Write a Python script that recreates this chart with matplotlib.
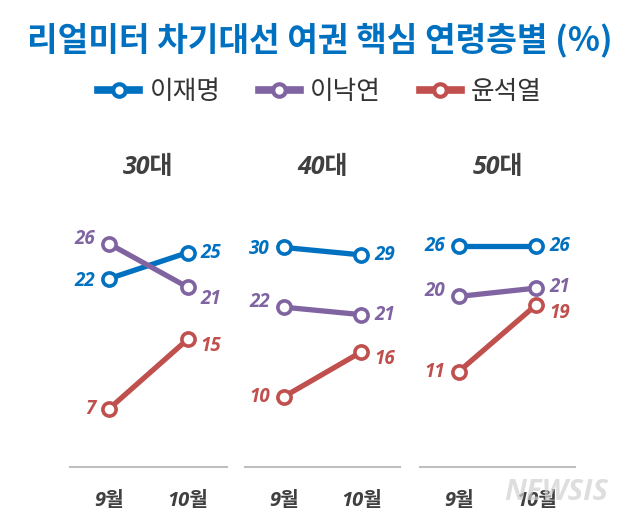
import matplotlib
matplotlib.use("Agg")
import matplotlib.pyplot as plt
from matplotlib.lines import Line2D

# data (%)
months = ["9월", "10월"]
ages = ["30대", "40대", "50대"]
candidates = ["이재명", "이낙연", "윤석열"]
lee_jm = [[22, 25], [30, 29], [26, 26]]
lee_ny = [[26, 21], [22, 21], [20, 21]]
yoon = [[7, 15], [10, 16], [11, 19]]

series = [lee_jm, lee_ny, yoon]
colors = ["#0070C0", "#8064A2", "#C0504D"]
KR = ["Noto Sans CJK KR", "DejaVu Sans"]
NUM = ["Open Sans", "Noto Sans CJK KR"]

# layout (pixels of a 640x523 canvas)
W, H = 640, 523
panel_x = [(70, 227), (245, 400), (420, 575)]
top_px, base_px = 200, 467
panel_ylim = [(0.27, 31.06), (0.6, 36.35), (-0.43, 31.55)]
# vertical nudges of the value labels, pixels: [panel][series] -> (left, right)
nudge = [
    [(-2, 0), (5, -12), (0, -7)],
    [(-2, 0), (5, 0), (0, -7)],
    [(0, 0), (5, 1), (0, -8)],
]

fig = plt.figure(figsize=(W / 100, H / 100), dpi=100)

for p, (x0, x1) in enumerate(panel_x):
    ax = fig.add_axes([x0 / W, 1 - base_px / H, (x1 - x0) / W, (base_px - top_px) / H])
    ax.set_xlim(-0.5, 1.5)
    ax.set_ylim(*panel_ylim[p])
    for s, vals in enumerate(series):
        v = vals[p]
        ax.plot([0, 1], v, color=colors[s], lw=3.8, marker="o", ms=9.5,
                mfc="white", mec=colors[s], mew=2.6, solid_capstyle="round",
                clip_on=False, zorder=3)
        dl, dr = nudge[p][s]
        ax.annotate(str(v[0]), (0, v[0]), xytext=(-14, dl), textcoords="offset pixels",
                    ha="right", va="center", color=colors[s], fontsize=13.5,
                    fontweight="bold", style="italic", family=NUM)
        ax.annotate(str(v[1]), (1, v[1]), xytext=(13, dr), textcoords="offset pixels",
                    ha="left", va="center", color=colors[s], fontsize=13.5,
                    fontweight="bold", style="italic", family=NUM)
    ax.text(0.5, 1 + (top_px - 167) / (base_px - top_px), ages[p], transform=ax.transAxes,
            ha="center", va="center", fontsize=18, fontweight="bold", style="italic",
            color="#404040", family=NUM)
    for side in ["top", "left", "right"]:
        ax.spines[side].set_visible(False)
    ax.spines["bottom"].set_color("#BFBFBF")
    ax.spines["bottom"].set_linewidth(1.5)
    ax.set_yticks([])
    ax.set_xticks([0, 1])
    ax.set_xticklabels(months, fontsize=14.5, fontweight="bold", style="italic",
                       color="#404040", family=NUM)
    ax.tick_params(axis="x", length=0, pad=17)
    ax.patch.set_visible(False)

fig.text(0.5, 1 - 40 / H, "리얼미터 차기대선 여권 핵심 연령층별 (%)", ha="center", va="center",
         fontsize=24, fontweight="bold", style="italic", color="#0070C0", family=KR)

handles = [Line2D([], [], color=c, lw=5.5, marker="o", ms=9, mfc="white", mec=c, mew=3)
           for c in colors]
leg = fig.legend(handles, candidates, loc="center", bbox_to_anchor=(0.5, 1 - 92 / H),
                 ncol=3, frameon=False, handlelength=1.6, handletextpad=0.4,
                 columnspacing=1.5, prop={"family": KR, "size": 18.5, "style": "italic"})
for t in leg.get_texts():
    t.set_color("#333333")

fig.text(556 / W, 1 - 492 / H, "NEWSIS", ha="center", va="center", fontsize=21,
         fontweight="bold", style="italic", color="#d0d0d0", alpha=0.7, family=NUM)

fig.savefig("out.png", dpi=100)
